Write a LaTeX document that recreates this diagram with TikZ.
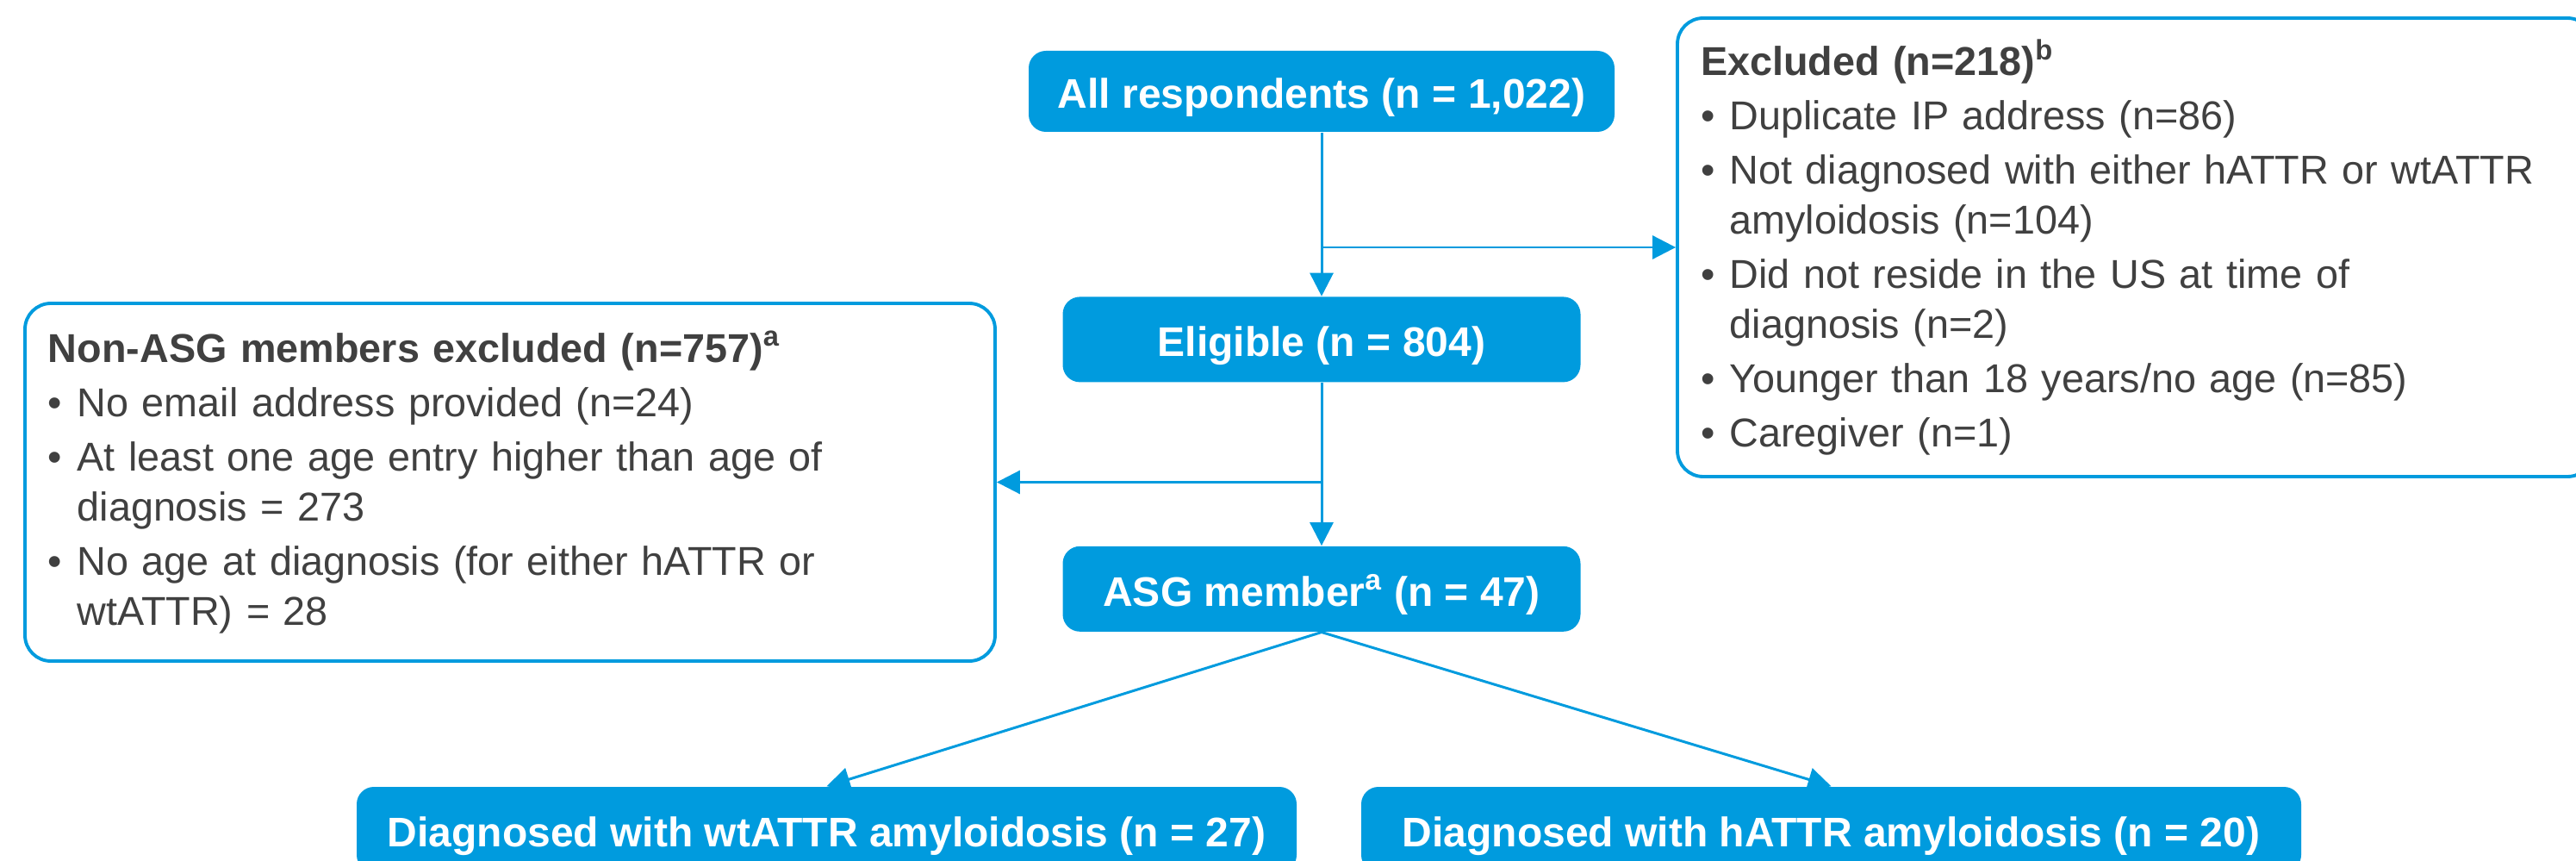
\documentclass[tikz,border=0pt]{standalone}
\usepackage{fontspec}
\setmainfont{Liberation Sans}
\usetikzlibrary{positioning,arrows.meta}
\definecolor{flowblue}{HTML}{009BDE}
\definecolor{listgrey}{HTML}{404040}
\newcommand{\bul}{\makebox[0.72em][l]{\textbullet}}
\newcommand{\cont}{\hspace*{0.72em}}

\begin{document}
\begin{tikzpicture}[
		node distance=1.9cm,
		stage/.style={fill=flowblue, rounded corners=0.2cm, text=white, align=center, minimum width=6.01cm, minimum height=0.99cm, text height=0.4cm, text depth=0cm, font=\fontsize{13.66}{16}\selectfont\bfseries},
		listbox/.style={draw=flowblue, line width=1.1pt, fill=white, rounded corners=0.3cm, align=left, inner xsep=0.27cm, text=listgrey, font=\fontsize{13.3}{16.5}\selectfont},
		arrow/.style={-{Triangle[length=0.27cm,width=0.27cm]}, flowblue, line width=0.85pt}
		]
		\useasboundingbox (0,0) rectangle (29.9,9.98);
		\clip (0,0) rectangle (29.9,9.98);
		
		\node[stage, minimum width=6.8cm, minimum height=0.94cm] (all) at (15.34,8.92) {All respondents (n = 1,022)};
		\node[stage] (elig) [below=1.9cm of all] {Eligible (n = 804)};
		\node[stage] (asg) [below=1.89cm of elig] {ASG member\textsuperscript{a} (n = 47)};
		\node[stage, minimum width=10.91cm] (wt) at (9.595,0.355) {Diagnosed with wtATTR amyloidosis (n = 27)};
		\node[stage, minimum width=10.91cm] (h) at (21.255,0.355) {Diagnosed with hATTR amyloidosis (n = 20)};
		
		\node[listbox, text width=10.09cm, minimum height=5.32cm] (excl) at (24.785,7.11) {\textbf{Excluded (n=218)\textsuperscript{b}}\\[1.4pt]
			\bul Duplicate IP address (n=86)\\[1.4pt]
			\bul Not diagnosed with either hATTR or wtATTR\\
			\cont amyloidosis (n=104)\\[1.4pt]
			\bul Did not reside in the US at time of\\
			\cont diagnosis (n=2)\\[1.4pt]
			\bul Younger than 18 years/no age (n=85)\\[1.4pt]
			\bul Caregiver (n=1)};
		\node[listbox, text width=10.72cm, minimum height=4.15cm] (nonasg) at (5.92,4.385) {\textbf{Non-ASG members excluded (n=757)\textsuperscript{a}}\\[1.4pt]
			\bul No email address provided (n=24)\\[1.4pt]
			\bul At least one age entry higher than age of\\
			\cont diagnosis = 273\\[1.4pt]
			\bul No age at diagnosis (for either hATTR or\\
			\cont wtATTR) = 28};
		
		\draw[arrow] (all) -- (elig);
		\draw[arrow] (all.south |- excl.west) -- (excl.west);
		\draw[arrow] (elig) -- (asg);
		\draw[arrow] (elig.south |- nonasg.east) -- (nonasg.east);
		\draw[arrow] (asg.south) -- (wt.north);
		\draw[arrow] (asg.south) -- (h.north);
		
	\end{tikzpicture}
\end{document}
